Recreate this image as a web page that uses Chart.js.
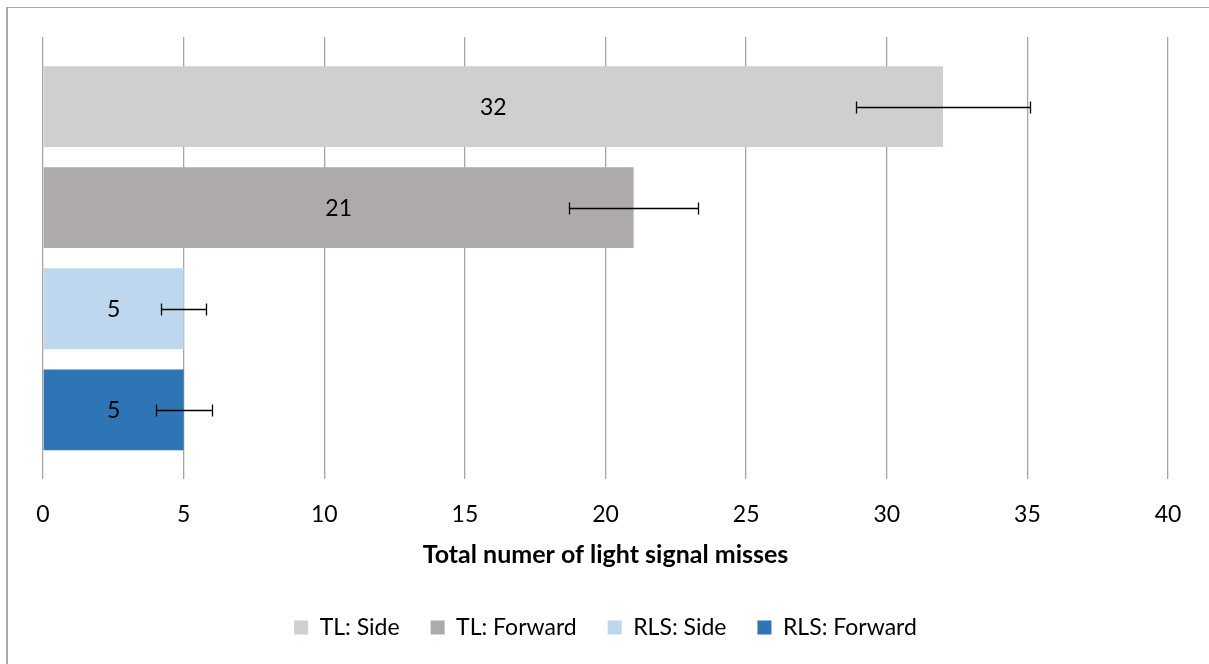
<!DOCTYPE html>
<html>
<head>
<meta charset="utf-8">
<script src="https://cdn.jsdelivr.net/npm/chart.js@4/dist/chart.umd.min.js"></script>
<style>
  html, body { margin: 0; padding: 0; background: #fff; }
  #wrap { position: relative; width: 1209px; height: 664px; }
  #frame { position: absolute; left: 6px; top: 7px; right: 0; bottom: -10px; border-left: 2px solid #ababab; border-top: 1.5px solid #ababab; pointer-events: none; }
</style>
</head>
<body>
<div id="wrap">
  <canvas id="c" width="1209" height="664"></canvas>
  <div id="frame"></div>
</div>
<script>
const categories = ['Light signal misses'];
const seriesNames = ['TL: Side', 'TL: Forward', 'RLS: Side', 'RLS: Forward'];
const seriesValues = [32, 21, 5, 5];
const seriesErrors = [3.1, 2.3, 0.8, 1.0];
const seriesColors = ['#D0CECE', '#AEAAAA', '#BDD7EE', '#2E75B6'];
const xTickMin = 0, xTickMax = 40, xTickStep = 5;
const xTitle = 'Total numer of light signal misses';

const FONT = 'Lato, "Open Sans", sans-serif';
Chart.defaults.font.family = FONT;
Chart.defaults.color = '#000';

const errorAndLabels = {
  id: 'errorAndLabels',
  afterDatasetsDraw(chart) {
    const ctx = chart.ctx;
    const xs = chart.scales.x;
    chart.data.datasets.forEach((ds, i) => {
      const meta = chart.getDatasetMeta(i);
      meta.data.forEach((bar, j) => {
        const v = ds.data[j];
        const e = ds.errors[j];
        const y = bar.y;
        ctx.save();
        ctx.fillStyle = '#000';
        ctx.font = '23px ' + FONT;
        ctx.textAlign = 'center';
        ctx.textBaseline = 'middle';
        ctx.fillText(String(v), (bar.base + bar.x) / 2, y + 1);
        const x1 = Math.round(xs.getPixelForValue(v - e)) + 0.5;
        const x2 = Math.round(xs.getPixelForValue(v + e)) + 0.5;
        const yy = Math.round(y) + 0.5;
        ctx.strokeStyle = '#000';
        ctx.lineWidth = 1.3;
        ctx.beginPath();
        ctx.moveTo(x1, yy); ctx.lineTo(x2, yy);
        ctx.moveTo(x1, yy - 6); ctx.lineTo(x1, yy + 6);
        ctx.moveTo(x2, yy - 6); ctx.lineTo(x2, yy + 6);
        ctx.stroke();
        ctx.restore();
      });
    });
  }
};

new Chart(document.getElementById('c'), {
  type: 'bar',
  data: {
    labels: categories,
    datasets: seriesNames.map((n, i) => ({
      label: n,
      data: [seriesValues[i]],
      errors: [seriesErrors[i]],
      backgroundColor: seriesColors[i],
      borderWidth: 0,
      categoryPercentage: 0.914,
      barPercentage: 0.8
    }))
  },
  options: {
    indexAxis: 'y',
    responsive: false,
    animation: false,
    layout: { padding: { left: 43, right: 41, top: 37, bottom: 15 } },
    scales: {
      x: {
        min: xTickMin, max: xTickMax,
        ticks: { stepSize: xTickStep, font: { size: 23 }, padding: 21, color: '#000' },
        grid: { color: '#a6a6a6', lineWidth: 1.3, drawTicks: false },
        border: { display: false },
        title: { display: true, text: xTitle, font: { size: 25, weight: 'bold' }, padding: { top: -9, bottom: 15 }, color: '#000' }
      },
      y: { display: false }
    },
    plugins: {
      legend: {
        position: 'bottom',
        labels: { boxWidth: 14, boxHeight: 14, font: { size: 23 }, padding: 31, color: '#000' }
      },
      tooltip: { enabled: false }
    }
  },
  plugins: [errorAndLabels]
});
</script>
</body>
</html>
